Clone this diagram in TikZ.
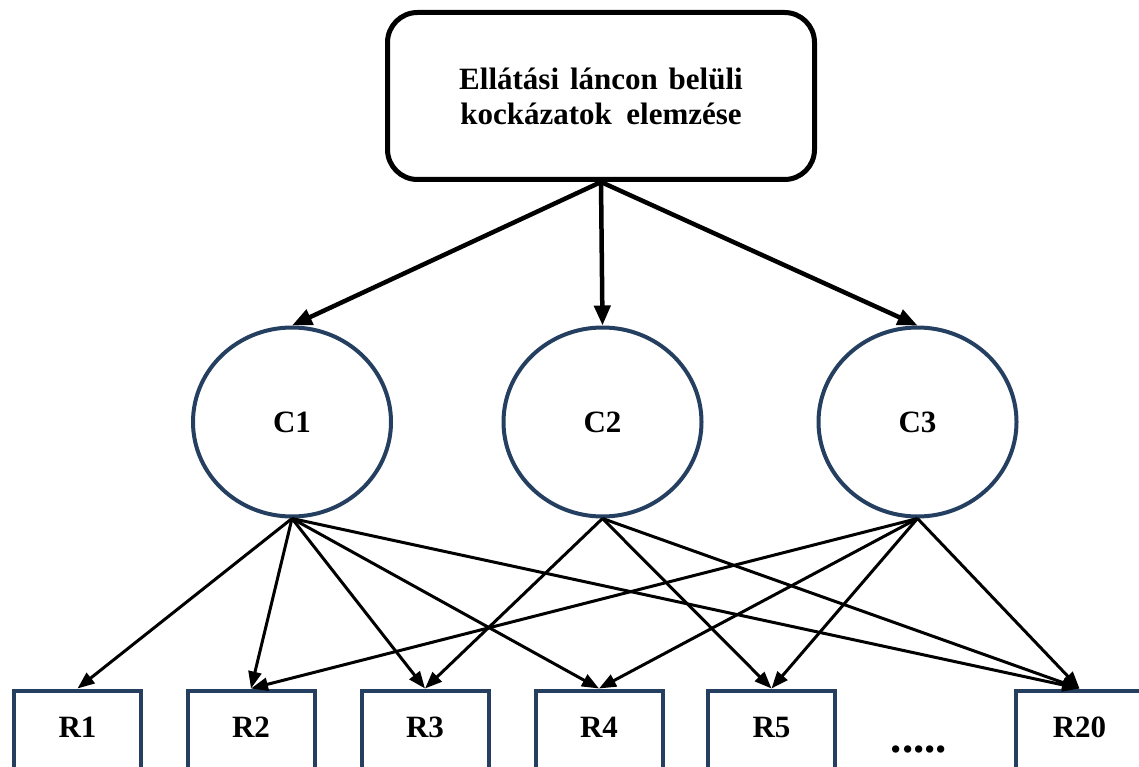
\documentclass[tikz,border=0pt]{standalone}
\usepackage{fontspec}
\setmainfont{Liberation Serif}
\usetikzlibrary{arrows.meta,shapes.geometric}
\definecolor{navy}{RGB}{36,63,96}
\tikzset{
  labelfont/.style={font=\fontsize{31}{35}\selectfont\bfseries},
  topbox/.style={draw=black, line width=5pt, rounded corners=30pt,
    minimum width=427pt, minimum height=167pt, align=center, inner sep=0pt, labelfont},
  crit/.style={ellipse, draw=navy, line width=4pt, minimum width=198pt,
    minimum height=189pt, inner sep=0pt, labelfont},
  rbox/.style={draw=navy, line width=4pt, minimum width=127pt, inner sep=0pt,
    text height=46.5pt, text depth=60pt, anchor=base, labelfont},
  mainarrow/.style={-{Triangle[length=20pt,width=16pt]}, line width=4.5pt},
  subarrow/.style={-{Triangle[length=17pt,width=13pt]}, line width=3pt},
}
\begin{document}
\begin{tikzpicture}[x=1pt, y=-1pt]
  \useasboundingbox (0,0) rectangle (1139,767);
  \clip (0,0) rectangle (1139,767);

  % goal
  \node[topbox] (goal) at (601,96)
    {Ellátási\hspace{0.35em}láncon\hspace{0.35em}belüli\\kockázatok\hspace{0.47em}elemzése};

  % criteria
  \node[crit] (c1) at (292,422) {C1};
  \node[crit] (c2) at (602.5,422) {C2};
  \node[crit] (c3) at (917.5,422) {C3};

  % risks
  \node[rbox] (r1) at (77.5,737) {R1};
  \node[rbox] (r2) at (251,737) {R2};
  \node[rbox] (r3) at (425,737) {R3};
  \node[rbox] (r4) at (599,737) {R4};
  \node[rbox] (r5) at (771.5,737) {R5};
  \node[rbox] (r20) at (1079.5,737) {R20};
  \node[font=\fontsize{45}{45}\selectfont\bfseries, anchor=base, inner sep=0pt] (dots) at (919,752) {.....};

  % goal to criteria
  \foreach \c in {c1,c2,c3}
    \draw[mainarrow] (goal.south) -- (\c.north);

  % criteria to risks
  \foreach \r in {r1,r2,r3,r4,r20}
    \draw[subarrow] (c1.south) -- (\r.north);
  \foreach \r in {r3,r5,r20}
    \draw[subarrow] (c2.south) -- (\r.north);
  \foreach \r in {r2,r4,r5,r20}
    \draw[subarrow] (c3.south) -- (\r.north);
\end{tikzpicture}
\end{document}
